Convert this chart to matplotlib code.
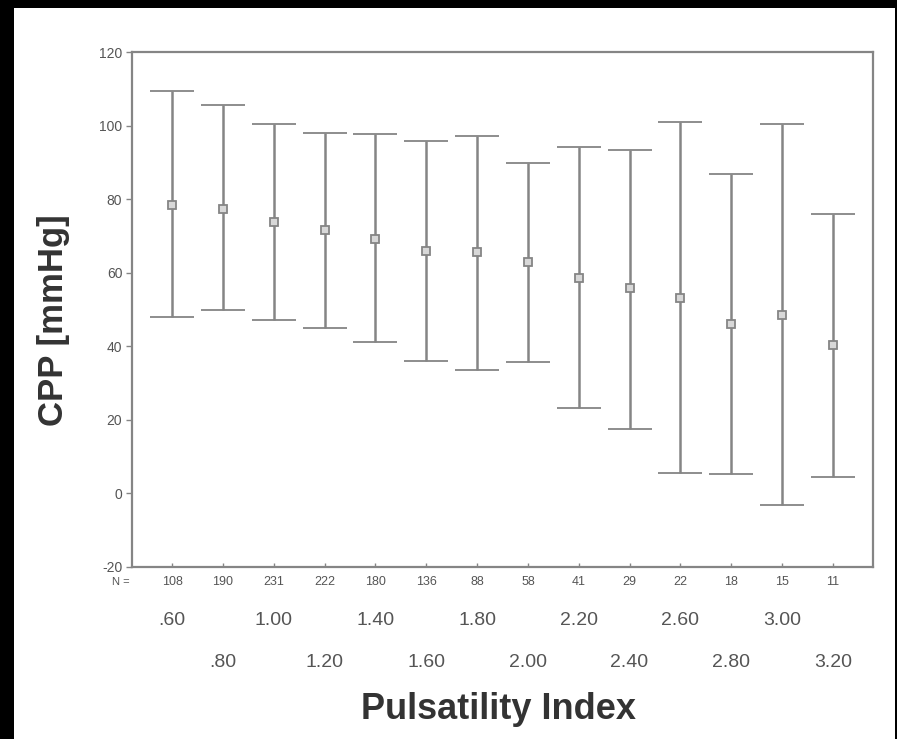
import matplotlib
matplotlib.use("Agg")
import matplotlib.pyplot as plt
from matplotlib.patches import Rectangle

# Pulsatility Index gruplari ve CPP ortalama / alt-ust sinirlar
pi_labels = [".60", ".80", "1.00", "1.20", "1.40", "1.60", "1.80",
             "2.00", "2.20", "2.40", "2.60", "2.80", "3.00", "3.20"]
n_counts = [108, 190, 231, 222, 180, 136, 88, 58, 41, 29, 22, 18, 15, 11]
cpp_mean = [78.5, 77.3, 73.9, 71.7, 69.1, 65.8, 65.5, 62.9, 58.5, 55.8, 53.2, 46.0, 48.5, 40.3]
cpp_upper = [109.5, 105.7, 100.3, 98.0, 97.8, 95.7, 97.1, 89.8, 94.2, 93.3, 101.0, 86.9, 100.4, 75.9]
cpp_lower = [47.9, 49.9, 47.1, 45.0, 41.1, 36.1, 33.5, 35.6, 23.1, 17.6, 5.6, 5.4, -3.1, 4.6]

plt.rcParams['font.family'] = ['Liberation Sans', 'DejaVu Sans']
plt.rcParams['axes.unicode_minus'] = False

gray = '#858585'
label_gray = '#555555'

fig = plt.figure(figsize=(8.97, 7.39), dpi=100, facecolor='black')
# beyaz zemin (kenarlarda siyah cerceve kaliyor)
fig.patches.append(Rectangle((14 / 897, 0), (895 - 14) / 897, (739 - 8) / 739,
                             transform=fig.transFigure, facecolor='white',
                             edgecolor='none', zorder=-10))

ax = fig.add_axes([132 / 897, 172 / 739, 741 / 897, 515 / 739])
ax.set_facecolor('white')

x = list(range(1, len(pi_labels) + 1))
err_low = [m - l for m, l in zip(cpp_mean, cpp_lower)]
err_high = [u - m for m, u in zip(cpp_mean, cpp_upper)]

ax.errorbar(x, cpp_mean, yerr=[err_low, err_high], fmt='s', color=gray,
            ecolor=gray, elinewidth=1.8, capsize=16, capthick=1.8,
            markersize=6, markerfacecolor='#d8d8d8', markeredgecolor=gray,
            markeredgewidth=1.3)

ax.set_xlim(0.21, 14.79)
ax.set_ylim(-20, 120)
ax.set_yticks(range(-20, 121, 20))
ax.set_xticks(x)
ax.set_xticklabels([])

for s in ax.spines.values():
    s.set_color(gray)
    s.set_linewidth(1.6)

ax.tick_params(axis='y', colors=gray, labelcolor=label_gray, labelsize=10,
               length=4, width=1, pad=3)
ax.tick_params(axis='x', colors=gray, length=3, width=1, direction='in')

tr = ax.get_xaxis_transform()
ax.text(0.17, -0.03, "N =", transform=tr, ha='right', va='center',
        fontsize=8, color=label_gray, clip_on=False)
for i, (xi, n, lab) in enumerate(zip(x, n_counts, pi_labels)):
    ax.text(xi, -0.03, str(n), transform=tr, ha='center', va='center',
            fontsize=9, color=label_gray, clip_on=False)
    row = -0.103 if i % 2 == 0 else -0.185
    ax.text(xi, row, lab, transform=tr, ha='center', va='center',
            fontsize=14, color=label_gray, clip_on=False)

ax.text(0.495, -0.277, "Pulsatility Index", transform=ax.transAxes,
        ha='center', va='center', fontsize=26, fontweight='bold', color='#333333')
ax.text(-0.106, 0.48, "CPP [mmHg]", transform=ax.transAxes, rotation=90,
        ha='center', va='center', fontsize=25, fontweight='bold', color='#333333')

fig.savefig("out.png", dpi=100, facecolor=fig.get_facecolor())
